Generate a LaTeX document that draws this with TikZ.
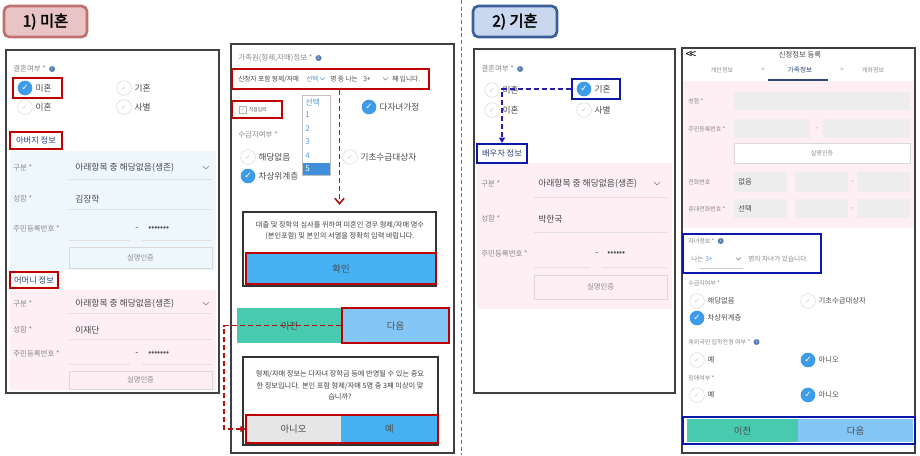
\documentclass[tikz,border=0pt]{standalone}
\usepackage{fontspec}
\setmainfont{Noto Sans CJK KR}
\newfontfamily\symfont{DejaVu Sans}
\newfontfamily\titlefont{Noto Sans CJK KR}[FakeBold=2.5]
\usepackage{tikz}
\usetikzlibrary{fit, positioning, arrows.meta}
\definecolor{markred}{HTML}{C00000}
\definecolor{linkred}{HTML}{B01010}
\definecolor{markblue}{HTML}{0C18A8}
\definecolor{linkblue}{HTML}{2A1CB0}
\definecolor{checkblue}{HTML}{3D9BE8}
\definecolor{infoblue}{HTML}{5A7DB5}
\definecolor{btnblue}{HTML}{45B0F2}
\definecolor{btnlight}{HTML}{84C6F5}
\definecolor{btnteal}{HTML}{47CAAE}
\definecolor{nogray}{HTML}{E6E6E6}
\definecolor{paleblue}{HTML}{EEF7FC}
\definecolor{palepink}{HTML}{FDEFF4}
\definecolor{fieldgray}{HTML}{EDEDED}
\definecolor{labelgray}{HTML}{8A8A8A}
\definecolor{valuegray}{HTML}{4A4A4A}
\definecolor{navytext}{HTML}{2E4677}
\definecolor{listblue}{HTML}{5A9BD8}
\definecolor{listhi}{HTML}{3F8FDB}
\definecolor{pinkfill}{HTML}{E9C4C4}
\definecolor{pinkline}{HTML}{C0706E}
\definecolor{bluefill}{HTML}{C9D8EF}
\definecolor{blueline}{HTML}{3C5E99}
\newcommand{\tickmark}{✓}
\tikzset{screen panel/.style={draw=black!75, line width=0.9pt, fill=white, inner sep=0pt}}
\tikzset{title one/.style={draw=pinkline, fill=pinkfill, line width=2pt, rounded corners=4pt, inner sep=0pt}}
\tikzset{title two/.style={draw=blueline, fill=bluefill, line width=2pt, rounded corners=4pt, inner sep=0pt}}
\tikzset{title text/.style={inner sep=0pt, font=\titlefont\fontsize{11.5}{13}\selectfont}}
\tikzset{red mark/.style={draw=markred, line width=1.5pt, inner sep=0pt}}
\tikzset{blue mark/.style={draw=markblue, line width=1.5pt, inner sep=0pt}}
\tikzset{field label/.style={anchor=west, inner sep=0pt, text=labelgray, font=\fontsize{5.6}{6}\selectfont}}
\tikzset{field value/.style={anchor=west, inner sep=0pt, text=valuegray, font=\fontsize{6.6}{8}\selectfont}}
\tikzset{small value/.style={anchor=west, inner sep=0pt, text=valuegray, font=\fontsize{5}{6}\selectfont}}
\tikzset{option text/.style={anchor=west, inner sep=0pt, text=valuegray, font=\fontsize{6.5}{7}\selectfont}}
\tikzset{head text/.style={inner sep=0pt, text=navytext, font=\fontsize{6.2}{7}\selectfont}}
\tikzset{radio off/.style={circle, draw=black!15, fill=white, minimum size=11pt, inner sep=0pt, text=black!22, font=\symfont\fontsize{5}{5}\selectfont}}
\tikzset{radio on/.style={circle, fill=checkblue, minimum size=11pt, inner sep=0pt, text=white, font=\symfont\fontsize{6.5}{6.5}\selectfont}}
\tikzset{info dot/.style={circle, fill=infoblue, minimum size=4.5pt, inner sep=0pt, text=white, font=\fontsize{3.5}{3.5}\selectfont}}
\tikzset{check box/.style={draw=black!30, fill=white, minimum size=5.5pt, inner sep=0pt, text=black!40, font=\symfont\fontsize{4}{4}\selectfont}}
\tikzset{tiny text/.style={anchor=west, inner sep=0pt, text=valuegray, font=\fontsize{3.5}{4}\selectfont}}
\tikzset{list box/.style={draw=black!25, line width=0.6pt, fill=white, inner sep=0pt}}
\tikzset{list item/.style={anchor=west, inner sep=0pt, text=listblue, font=\fontsize{6}{7}\selectfont}}
\tikzset{under line/.style={draw=black!12, line width=0.7pt}}
\tikzset{chev/.style={draw=black!50, line width=0.5pt}}
\tikzset{flat button/.style={draw=black!15, line width=0.6pt, inner sep=0pt}}
\tikzset{button label/.style={inner sep=0pt, text=black!45, font=\fontsize{5.5}{6}\selectfont}}
\tikzset{gray field/.style={fill=fieldgray, inner sep=0pt, text=valuegray, font=\fontsize{5.5}{6}\selectfont}}
\tikzset{dialog box/.style={draw=black!80, line width=0.8pt, fill=white, inner sep=0pt}}
\tikzset{dialog text/.style={align=center, inner sep=0pt, text=black!75, font=\fontsize{5.4}{8.6}\selectfont}}
\tikzset{button text/.style={inner sep=0pt, text=black!70, font=\fontsize{7}{8}\selectfont}}
\tikzset{red link/.style={draw=linkred, dash pattern=on 4pt off 2pt, line width=1.2pt}}
\tikzset{blue link/.style={draw=linkblue, dash pattern=on 4pt off 2pt, line width=1.2pt}}
\tikzset{split line/.style={draw=black!55, dash pattern=on 3pt off 2pt, line width=0.7pt}}

\begin{document}
\begin{tikzpicture}[x=0.75pt, y=-0.75pt]
\useasboundingbox (0,0) rectangle (920,455);

% 1) single
\node[title one, fit={(4,6) (87,37)}] (titleA) {};
\node[title text] (titleAt) at (titleA) {1) 미혼};
\node[screen panel, fit={(6,50) (219,393)}] (panelA) {};
\fill[paleblue] (10,151) rectangle (216,270);
\fill[palepink] (10,290) rectangle (216,390);
\node[field label] (a0) at (13,69) {결혼여부 *};
\node[info dot, right=2pt of a0] (a0i) {i};
\node[radio on] (a1) at (25,88) {\tickmark};
\node[option text, right=2pt of a1] (a1t) {미혼};
\node[radio off] (a2) at (124,88) {\tickmark};
\node[option text, right=2pt of a2] (a2t) {기혼};
\node[radio off] (a3) at (25,107) {\tickmark};
\node[option text, right=2pt of a3] (a3t) {이혼};
\node[radio off] (a4) at (124,107) {\tickmark};
\node[option text, right=2pt of a4] (a4t) {사별};
\node[red mark, fit={(13,78) (62,98)}] (singleA) {};
\node[red mark, fit={(10,132) (62,149)}] (fatherA) {};
\node[head text] (fatherAt) at (fatherA) {아버지 정보};

\node[field label] (f1) at (13,168) {구분 *};
\node[field value] (f1v) at (75,168) {아래항목 중 해당없음(생존)};
\draw[chev] (203,166) -- (206,169) -- (209,166);
\draw[under line] (69,179) -- (212,179);
\node[field label] (f2) at (13,199) {성함 *};
\node[field value] (f2v) at (75,199) {김장학};
\draw[under line] (69,209) -- (212,209);
\node[field label] (f3) at (13,229) {주민등록번호 *};
\node[field value] (f3d) at (135,229) {-};
\node[field value] (f3v) at (148,229) {•••••••};
\draw[under line] (69,240) -- (130,240) (142,240) -- (212,240);
\node[flat button, fit={(69,247) (212,268)}] (f4) {};
\node[button label] (f4t) at (f4) {실명인증};

\node[red mark, fit={(10,272) (58,288)}] (motherA) {};
\node[head text] (motherAt) at (motherA) {어머니 정보};
\node[field label] (m1) at (13,304) {구분 *};
\node[field value] (m1v) at (75,304) {아래항목 중 해당없음(생존)};
\draw[chev] (203,302) -- (206,305) -- (209,302);
\draw[under line] (69,313) -- (212,313);
\node[field label] (m2) at (13,330) {성함 *};
\node[field value] (m2v) at (75,330) {이재단};
\draw[under line] (69,339) -- (212,339);
\node[field label] (m3) at (13,354) {주민등록번호 *};
\node[field value] (m3d) at (135,354) {-};
\node[field value] (m3v) at (148,354) {•••••••};
\draw[under line] (69,364) -- (130,364) (142,364) -- (212,364);
\node[flat button, fit={(69,371) (212,389)}] (m4) {};
\node[button label] (m4t) at (m4) {실명인증};

% siblings screen
\node[screen panel, fit={(231,44) (454,453)}] (panelB) {};
\node[field label] (b0) at (238,58) {가족원(형제,자매)정보 *};
\node[info dot, right=2pt of b0] (b0i) {i};
\node[small value] (b1) at (238,79) {신청자 포함 형제/자매};
\node[small value, text=listblue] (b1s) at (306,79) {선택};
\draw[chev, draw=listblue] (320,77.5) -- (322.5,80) -- (325,77.5);
\node[small value] (b1m) at (330,79) {명 중 나는};
\node[small value] (b1n) at (363,79) {3+};
\draw[chev] (383,77.5) -- (385.5,80) -- (388,77.5);
\node[small value] (b1e) at (392,79) {째 입니다.};
\node[red mark, fit={(232,69) (429,89)}] (orderB) {};

\node[check box] (b2) at (243,110) {\tickmark};
\node[tiny text, right=1.5pt of b2] (b2t) {직접입력};
\node[red mark, fit={(232,101) (282,118)}] (directB) {};
\node[radio on] (b3) at (369,107) {\tickmark};
\node[option text, right=2pt of b3] (b3t) {다자녀가정};
\node[field label] (b4) at (238,135) {수급자여부 *};
\node[radio off] (b5) at (248,157) {\tickmark};
\node[option text, right=2pt of b5] (b5t) {해당없음};
\node[radio off] (b6) at (350,157) {\tickmark};
\node[option text, right=2pt of b6] (b6t) {기초수급대상자};
\node[radio on] (b7) at (248,176) {\tickmark};
\node[option text, right=2pt of b7] (b7t) {차상위계층};

\node[list box, fit={(302,95) (330,175)}] (listB) {};
\fill[listhi] (302.5,163) rectangle (329.5,175);
\node[list item] (l0) at (305,102) {선택};
\node[list item] (l1) at (305,115) {1};
\node[list item] (l2) at (305,129) {2};
\node[list item] (l3) at (305,142) {3};
\node[list item] (l4) at (305,156) {4};
\node[list item, text=white] (l5) at (305,169) {5};

\node[dialog box, fit={(243,212) (436,286)}] (dlgB) {};
\node[dialog text] (dlgBt) at (340,230.5) {대출 및 장학의 심사를 위하여 미혼인 경우 형제/자매 명수\\(본인포함) 및 본인의 서열을 정확히 입력 바랍니다.};
\node[fill=btnblue, red mark, fit={(246,253) (436,284)}] (okB) {};
\node[button text] (okBt) at (okB) {확인};

\node[fill=btnteal, inner sep=0pt, fit={(237,308) (342,343)}] (prevB) {};
\node[button text] (prevBt) at (prevB) {이전};
\node[fill=btnlight, red mark, fit={(342,308) (449,343)}] (nextB) {};
\node[button text] (nextBt) at (nextB) {다음};

\node[dialog box, fit={(243,357) (438,445)}] (askB) {};
\node[dialog text] (askBt) at (340,385.5) {형제/자매 정보는 다자녀 장학금 등에 반영될 수 있는 중요\\한 정보입니다. 본인 포함 형제/자매 5명 중 3째 이상이 맞\\습니까?};
\node[fill=nogray, inner sep=0pt, fit={(246,415) (341,443)}] (noB) {};
\node[button text] (noBt) at (noB) {아니오};
\node[fill=btnblue, inner sep=0pt, fit={(341,415) (438,443)}] (yesB) {};
\node[button text] (yesBt) at (yesB) {예};
\node[red mark, fit=(noB)(yesB)] (answerB) {};

\draw[red link, -{Straight Barb[length=4pt, width=7pt]}, shorten >=5pt] (dlgB.north |- orderB.south) -- (dlgB.north);
\coordinate (backB) at (224,325.5);
\draw[red link, -{Triangle[length=4pt, width=4.5pt]}] (nextB.west) -- (backB) |- (noB.west);

\draw[split line] (461,0) -- (461,455);

% 2) married
\node[title two, fit={(473,6) (557,37)}] (titleC) {};
\node[title text] (titleCt) at (titleC) {2) 기혼};
\node[screen panel, fit={(474,49) (675,393)}] (panelC) {};
\fill[palepink] (477,163) rectangle (672,309);
\node[field label] (c0) at (481,69) {결혼여부 *};
\node[info dot, right=2pt of c0] (c0i) {i};
\node[radio off] (c1) at (492,90) {\tickmark};
\node[option text, right=2pt of c1] (c1t) {미혼};
\node[radio on] (c2) at (584,89) {\tickmark};
\node[option text, right=2pt of c2] (c2t) {기혼};
\node[radio off] (c3) at (492,110) {\tickmark};
\node[option text, right=2pt of c3] (c3t) {이혼};
\node[radio off] (c4) at (584,110) {\tickmark};
\node[option text, right=2pt of c4] (c4t) {사별};
\node[blue mark, fit={(572,79) (620,99)}] (marriedC) {};
\node[blue mark, fill=white, fit={(477,144) (527,163)}] (spouseC) {};
\node[head text] (spouseCt) at (spouseC) {배우자 정보};

\node[field label] (s1) at (481,184) {구분 *};
\node[field value] (s1v) at (538,184) {아래항목 중 해당없음(생존)};
\draw[chev] (654,182) -- (657,185) -- (660,182);
\draw[under line] (534,197) -- (667,197);
\node[field label] (s2) at (481,219) {성함 *};
\node[field value] (s2v) at (538,219) {박한국};
\draw[under line] (534,232) -- (667,232);
\node[field label] (s3) at (481,254) {주민등록번호 *};
\node[field value] (s3d) at (595,254) {-};
\node[field value] (s3v) at (607,254) {••••••};
\draw[under line] (534,267) -- (590,267) (602,267) -- (667,267);
\node[flat button, fit={(534,275) (667,299)}] (s4) {};
\node[button label] (s4t) at (s4) {실명인증};

\draw[blue link, -{Triangle[length=4pt, width=4.5pt]}] (marriedC.west) -| (spouseC.north);

% family info screen
\node[screen panel, fit={(682,48) (915,453)}] (panelD) {};
\fill[palepink] (683,81) rectangle (914,228);
\node[inner sep=0pt, font=\fontsize{9}{9}\selectfont] (d0b) at (691,55) {<\kern-2pt<};
\node[inner sep=0pt, text=valuegray, font=\fontsize{5.5}{6}\selectfont] (d0) at (800,55) {신청정보 등록};
\node[inner sep=0pt, text=labelgray, font=\fontsize{4.5}{5}\selectfont] (d0a) at (722,70) {개인정보};
\node[inner sep=0pt, text=labelgray, font=\fontsize{4.5}{5}\selectfont] (d0c) at (763,70) {>};
\node[inner sep=0pt, text=navytext, font=\fontsize{5}{6}\selectfont] (d0d) at (800,70) {가족정보};
\node[inner sep=0pt, text=labelgray, font=\fontsize{4.5}{5}\selectfont] (d0e) at (842,70) {>};
\node[inner sep=0pt, text=labelgray, font=\fontsize{4.5}{5}\selectfont] (d0f) at (873,70) {계좌정보};
\draw[draw=navytext, line width=1.5pt] (768,80) -- (828,80);

\node[field label, font=\fontsize{4.5}{5}\selectfont] (d1) at (688,101) {성함 *};
\node[gray field, fit={(734,92) (910,110)}] (d1f) {};
\node[field label, font=\fontsize{4.5}{5}\selectfont] (d2) at (688,129) {주민등록번호 *};
\node[gray field, fit={(734,119) (810,138)}] (d2f) {};
\node[field label] (d2d) at (815,129) {-};
\node[gray field, fit={(823,119) (910,138)}] (d2g) {};
\node[flat button, fill=white, fit={(734,143) (910,163)}] (d3) {};
\node[button label, font=\fontsize{4.5}{5}\selectfont] (d3t) at (d3) {실명인증};
\node[field label, font=\fontsize{4.5}{5}\selectfont] (d4) at (688,182) {전화번호};
\node[gray field, fit={(734,172) (787,192)}] (d4f) {};
\node[gray field, anchor=west] (d4v) at (738,182) {없음};
\node[gray field, fit={(795,172) (848,192)}] (d4g) {};
\node[field label] (d4d) at (851,182) {-};
\node[gray field, fit={(857,172) (910,192)}] (d4h) {};
\node[field label, font=\fontsize{4.5}{5}\selectfont] (d5) at (688,209) {휴대전화번호 *};
\node[gray field, fit={(734,199) (787,218)}] (d5f) {};
\node[gray field, anchor=west] (d5v) at (738,209) {선택};
\node[gray field, fit={(795,199) (848,218)}] (d5g) {};
\node[field label] (d5d) at (851,209) {-};
\node[gray field, fit={(857,199) (910,218)}] (d5h) {};

\node[field label, font=\fontsize{4.5}{5}\selectfont] (d6) at (688,241) {자녀정보 *};
\node[info dot, right=2pt of d6] (d6i) {i};
\node[small value, text=labelgray] (d6a) at (691,259) {나는};
\node[small value, text=listblue] (d6b) at (705,259) {3+};
\draw[chev] (736,257.5) -- (738.5,260) -- (741,257.5);
\draw[under line, draw=black!20] (700,268) -- (743,268);
\node[small value, text=labelgray] (d6c) at (748,259) {명의 자녀가 있습니다.};
\node[blue mark, fit={(683,234) (821,273)}] (childD) {};

\node[field label, font=\fontsize{4.5}{5}\selectfont] (d7) at (688,283) {수급자여부 *};
\node[radio off] (d8) at (697,301) {\tickmark};
\node[option text, font=\fontsize{5.5}{6}\selectfont, right=2pt of d8] (d8t) {해당없음};
\node[radio off] (d9) at (808,301) {\tickmark};
\node[option text, font=\fontsize{5.5}{6}\selectfont, right=2pt of d9] (d9t) {기초수급대상자};
\node[radio on] (d10) at (697,318) {\tickmark};
\node[option text, font=\fontsize{5.5}{6}\selectfont, right=2pt of d10] (d10t) {차상위계층};
\node[field label, font=\fontsize{4.5}{5}\selectfont] (d11) at (688,342) {재외국민 입학전형 여부 *};
\node[info dot, right=2pt of d11] (d11i) {i};
\node[radio off] (d12) at (697,360) {\tickmark};
\node[option text, font=\fontsize{5.5}{6}\selectfont, right=2pt of d12] (d12t) {예};
\node[radio on] (d13) at (808,360) {\tickmark};
\node[option text, font=\fontsize{5.5}{6}\selectfont, right=2pt of d13] (d13t) {아니오};
\node[field label, font=\fontsize{4.5}{5}\selectfont] (d14) at (688,378) {장애여부 *};
\node[radio off] (d15) at (697,395) {\tickmark};
\node[option text, font=\fontsize{5.5}{6}\selectfont, right=2pt of d15] (d15t) {예};
\node[radio on] (d16) at (808,395) {\tickmark};
\node[option text, font=\fontsize{5.5}{6}\selectfont, right=2pt of d16] (d16t) {아니오};

\node[fill=btnteal, inner sep=0pt, fit={(687,419) (798,442)}] (prevD) {};
\node[button text] (prevDt) at (prevD) {이전};
\node[fill=btnlight, inner sep=0pt, fit={(798,419) (913,442)}] (nextD) {};
\node[button text] (nextDt) at (nextD) {다음};
\node[blue mark, fit={(683,417) (915,444)}] (navD) {};
\end{tikzpicture}
\end{document}
